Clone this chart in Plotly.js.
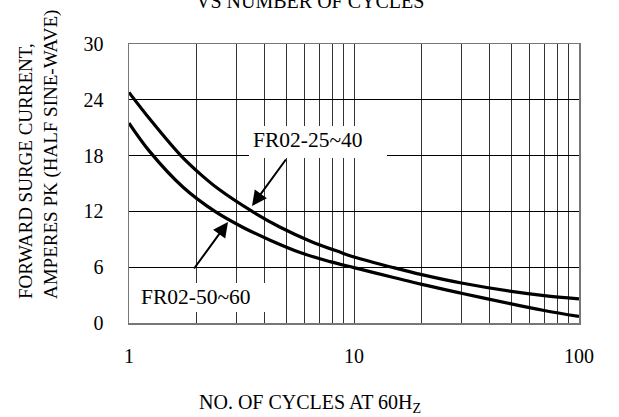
<!DOCTYPE html>
<html><head><meta charset="utf-8">
<script src="https://cdn.plot.ly/plotly-3.0.1.min.js"></script>
<style>html,body{margin:0;padding:0;background:#fff}#chart{width:619px;height:417px}</style>
</head><body><div id="chart"></div>
<script>
// Data
const upperName = 'FR02-25~40';
const upperX = [1, 1.25, 1.7, 2.1, 2.5, 3.5, 4.7, 6.4, 8.7, 10, 15, 20, 30, 50, 70, 100];
const upperY = [24.8, 21.8, 18.0, 15.9, 14.4, 12.05, 10.3, 8.8, 7.6, 7.1, 5.95, 5.2, 4.3, 3.4, 2.95, 2.6];
const lowerName = 'FR02-50~60';
const lowerX = [1, 1.24, 1.74, 2.41, 3.2, 4.24, 5.8, 7.82, 10, 15, 20, 30, 50, 70, 100];
const lowerY = [21.5, 18.4, 14.6, 12.0, 10.3, 8.9, 7.55, 6.6, 5.95, 4.9, 4.15, 3.2, 2.05, 1.35, 0.7];
const xTickVals = [1,2,3,4,5,6,7,8,9,10,20,30,40,50,60,70,80,90,100];
const xTickText = ['1','','','','','','','','','10','','','','','','','','','100'];
const yTickVals = [0, 6, 12, 18, 24, 30];
const titleText = 'VS NUMBER OF CYCLES';
const xTitle = 'NO. OF CYCLES AT 60H<sub>Z</sub>';
const yTitle = 'FORWARD SURGE CURRENT,<br>AMPERES PK (HALF SINE-WAVE)';

const W = 619, H = 417, L = 129, R = 40, T = 44, B = 94;
const pw = W - L - R, ph = H - T - B;
const px = v => (v - L) / pw;           // pixel -> paper x
const py = v => (H - B - v) / ph;       // pixel -> paper y
const FONT = 'Liberation Serif, Times New Roman, serif';

const traces = [
  {x: upperX, y: upperY, name: upperName, mode: 'lines', line: {color: '#000', width: 3.2, shape: 'spline'}},
  {x: lowerX, y: lowerY, name: lowerName, mode: 'lines', line: {color: '#000', width: 3.2, shape: 'spline'}}
];

const layout = {
  width: W, height: H,
  margin: {l: L, r: R, t: T, b: B},
  paper_bgcolor: '#fff', plot_bgcolor: '#fff',
  showlegend: false,
  font: {family: FONT, size: 20, color: '#000'},
  xaxis: {
    type: 'log', range: [0, 2],
    tickmode: 'array', tickvals: xTickVals, ticktext: xTickText,
    showgrid: true, gridcolor: '#333', gridwidth: 1,
    ticks: '', ticklabelstandoff: 14,
    showline: true, mirror: true, linecolor: '#777', linewidth: 1.5,
    zeroline: false,
    tickfont: {family: FONT, size: 20, color: '#000'}
  },
  yaxis: {
    range: [0, 30], tickmode: 'array', tickvals: yTickVals,
    showgrid: true, gridcolor: '#000', gridwidth: 1,
    ticks: '', ticklabelstandoff: 20,
    showline: true, mirror: true, linecolor: '#777', linewidth: 1.5,
    zeroline: false,
    tickfont: {family: FONT, size: 20, color: '#000'}
  },
  shapes: [
    {type: 'rect', xref: 'paper', yref: 'paper', x0: px(249), x1: px(387), y0: py(158), y1: py(126),
     fillcolor: '#fff', line: {width: 0}, layer: 'above'},
    {type: 'rect', xref: 'paper', yref: 'paper', x0: px(134), x1: px(270), y0: py(312), y1: py(283),
     fillcolor: '#fff', line: {width: 0}, layer: 'above'}
  ],
  annotations: [
    {text: upperName, xref: 'paper', yref: 'paper', x: px(251), y: py(140), xanchor: 'left', yanchor: 'middle',
     showarrow: false, font: {family: FONT, size: 21.5, color: '#000'}},
    {text: lowerName, xref: 'paper', yref: 'paper', x: px(139), y: py(297), xanchor: 'left', yanchor: 'middle',
     showarrow: false, font: {family: FONT, size: 21.5, color: '#000'}},
    {text: '', xref: 'paper', yref: 'paper', x: px(252), y: py(206), axref: 'pixel', ayref: 'pixel',
     ax: 287 - 252, ay: 158 - 206, showarrow: true, arrowhead: 2, arrowsize: 1.5, arrowwidth: 2, arrowcolor: '#000'},
    {text: '', xref: 'paper', yref: 'paper', x: px(228), y: py(222), axref: 'pixel', ayref: 'pixel',
     ax: 193 - 228, ay: 270 - 222, showarrow: true, arrowhead: 2, arrowsize: 1.5, arrowwidth: 2, arrowcolor: '#000'},
    {text: titleText, xref: 'paper', yref: 'paper', x: px(310), y: py(1), xanchor: 'center', yanchor: 'middle',
     showarrow: false, font: {family: FONT, size: 20, color: '#000'}},
    {text: xTitle, xref: 'paper', yref: 'paper', x: px(310), y: py(403), xanchor: 'center', yanchor: 'middle',
     showarrow: false, font: {family: FONT, size: 20, color: '#000'}},
    {text: yTitle, xref: 'paper', yref: 'paper', x: px(38), y: py(155), xanchor: 'center', yanchor: 'middle',
     textangle: -90, align: 'left', showarrow: false, font: {family: FONT, size: 19, color: '#000'}}
  ]
};

Plotly.newPlot('chart', traces, layout, {displayModeBar: false, staticPlot: true});
</script>
</body></html>
